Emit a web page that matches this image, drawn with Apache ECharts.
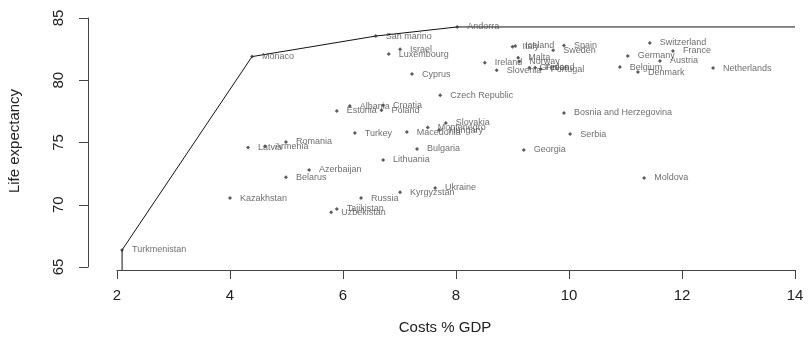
<!DOCTYPE html>
<html>
<head>
<meta charset="utf-8">
<script src="https://cdn.jsdelivr.net/npm/echarts@6/dist/echarts.min.js"></script>
<style>
  html, body { margin: 0; padding: 0; background: #fff; }
  #chart { width: 808px; height: 337px; }
</style>
</head>
<body>
<div id="chart"></div>
<script>
// countries with health costs (% GDP) and life expectancy
const countries = [
  'Andorra', 'San marino', 'Monaco', 'Turkmenistan', 'Israel', 'Luxembourg', 'Cyprus',
  'Czech Republic', 'Italy', 'Iceland', 'Spain', 'Sweden', 'Ireland', 'Slovenia',
  'Malta', 'Norway', 'Greece', 'Finland', 'Portugal', 'Switzerland', 'France',
  'Germany', 'Austria', 'Belgium', 'Denmark', 'Netherlands', 'Bosnia and Herzegovina',
  'Serbia', 'Georgia', 'Moldova', 'Slovakia', 'Montenegro', 'Hungary', 'Macedonia',
  'Bulgaria', 'Lithuania', 'Turkey', 'Croatia', 'Poland', 'Albania', 'Estonia',
  'Latvia', 'Armenia', 'Romania', 'Belarus', 'Azerbaijan', 'Kazakhstan', 'Russia',
  'Kyrgyzstan', 'Ukraine', 'Tajikistan', 'Uzbekistan'
];
const costs = [
  8.02, 6.58, 4.39, 2.09, 7.01, 6.81, 7.22,
  7.72, 9.0, 9.05, 9.91, 9.72, 8.51, 8.72,
  9.1, 9.12, 9.3, 9.4, 9.5, 11.43, 11.84,
  11.04, 11.61, 10.9, 11.22, 12.55, 9.91,
  10.02, 9.2, 11.33, 7.82, 7.5, 7.7, 7.13,
  7.31, 6.71, 6.21, 6.71, 6.68, 6.12, 5.89,
  4.32, 4.62, 4.99, 4.99, 5.4, 4.0, 6.32,
  7.01, 7.63, 5.89, 5.79
];
const lifeExp = [
  84.28, 83.55, 81.9, 66.37, 82.5, 82.1, 80.5,
  78.8, 82.7, 82.75, 82.8, 82.4, 81.4, 80.8,
  81.8, 81.5, 81.0, 81.0, 80.9, 83.0, 82.35,
  81.95, 81.55, 81.06, 80.66, 80.98, 77.37,
  75.68, 74.4, 72.15, 76.57, 76.2, 76.0, 75.84,
  74.48, 73.6, 75.76, 78.0, 77.6, 77.93, 77.53,
  74.6, 74.7, 75.04, 72.2, 72.8, 70.54, 70.54,
  71.0, 71.35, 69.66, 69.4
];
// efficiency frontier
const frontierX = [2.09, 2.09, 4.39, 6.58, 8.02, 14];
const frontierY = [64.75, 66.37, 81.9, 83.55, 84.28, 84.28];

const xTicks = { min: 2, max: 14, step: 2 };
const yTicks = { min: 65, max: 85, step: 5 };

const chart = echarts.init(document.getElementById('chart'));

const font = 'Liberation Sans, Arial, sans-serif';
const axisCommon = {
  axisLine: { show: true, lineStyle: { color: '#444', width: 1 } },
  axisTick: { show: true, inside: false, length: 9, lineStyle: { color: '#444' } },
  splitLine: { show: false },
  axisLabel: { color: '#222', fontSize: 15, fontFamily: font }
};

chart.setOption({
  animation: false,
  grid: { left: 117, right: 13, top: 18, bottom: 70, containLabel: false },
  xAxis: Object.assign({}, axisCommon, {
    type: 'value',
    min: xTicks.min, max: xTicks.max, interval: xTicks.step,
    offset: 3,
    axisLabel: Object.assign({}, axisCommon.axisLabel, { margin: 18 })
  }),
  yAxis: Object.assign({}, axisCommon, {
    type: 'value',
    min: yTicks.min, max: yTicks.max, interval: yTicks.step,
    offset: 29,
    axisLabel: Object.assign({}, axisCommon.axisLabel, { rotate: 90, margin: 22 })
  }),
  graphic: [
    {
      type: 'text', position: [445, 328],
      style: { text: 'Costs % GDP', fill: '#222', font: '15px ' + font, align: 'center', verticalAlign: 'middle' }
    },
    {
      type: 'text', position: [15, 141], rotation: Math.PI / 2,
      style: { text: 'Life expectancy', fill: '#222', font: '15px ' + font, align: 'center', verticalAlign: 'middle' }
    }
  ],
  series: [
    {
      type: 'line',
      data: frontierX.map((x, i) => [x, frontierY[i]]),
      symbol: 'none',
      clip: false,
      lineStyle: { color: '#111', width: 1 },
      z: 1
    },
    {
      type: 'scatter',
      data: countries.map((c, i) => ({ name: c, value: [costs[i], lifeExp[i]] })),
      symbol: 'diamond',
      symbolSize: 4,
      itemStyle: { color: '#333' },
      label: {
        show: true,
        position: 'right',
        distance: 8,
        formatter: p => p.name,
        color: '#4a4a4a',
        fontSize: 9,
        fontFamily: font
      },
      labelLayout: { hideOverlap: false },
      z: 2
    }
  ]
});
</script>
</body>
</html>
